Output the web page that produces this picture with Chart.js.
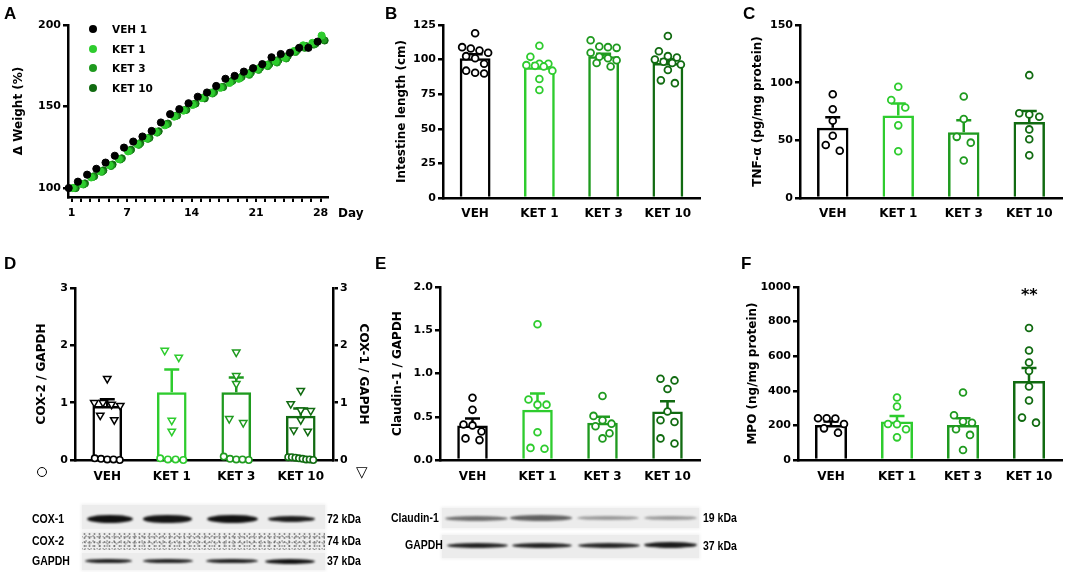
<!DOCTYPE html>
<html><head><meta charset="utf-8">
<script src="https://cdn.jsdelivr.net/npm/chart.js@4.4.1/dist/chart.umd.min.js"></script>
<style>
html,body{margin:0;padding:0;background:#fff;}
#wrap{position:relative;width:1065px;height:572px;overflow:hidden;background:#fff;}
canvas.layer{position:absolute;left:0;top:0;}
.t{position:absolute;white-space:nowrap;color:#000;}
.letter{font-family:'Liberation Sans',Arial,sans-serif;font-weight:bold;font-size:17px;line-height:17px;}
.leg{font-family:'DejaVu Sans',sans-serif;font-weight:bold;font-size:10.5px;line-height:12px;}
.dj{font-family:'DejaVu Sans',sans-serif;font-weight:bold;}
.dot{position:absolute;width:8px;height:8px;border-radius:50%;}
.blab{font-family:'Liberation Sans',Arial,sans-serif;font-weight:bold;font-size:12.5px;line-height:14px;transform:scaleX(0.84);transform-origin:0 50%;}
.strip{position:absolute;background:#ececec;box-shadow:0 0 3px 1px #f0f0f0;}
.speck{background-color:#eeeeee;
 background-image:
 radial-gradient(circle at 50% 50%, rgba(70,70,70,.9) 0, rgba(70,70,70,0) 1.4px),
 radial-gradient(circle at 30% 60%, rgba(110,110,110,.85) 0, rgba(110,110,110,0) 1.3px),
 radial-gradient(circle at 70% 30%, rgba(50,50,50,.7) 0, rgba(50,50,50,0) 1px),
 radial-gradient(circle at 40% 40%, rgba(140,140,140,.8) 0, rgba(140,140,140,0) 1.6px);
 background-size:5px 4px,7px 5px,3px 6px,9px 7px;background-position:0 0,2px 1px,1px 3px,4px 2px;}
.band{position:absolute;border-radius:50%;filter:blur(1px);}
</style></head>
<body><div id="wrap">
<canvas id="cA" class="layer" width="1065" height="572"></canvas>
<canvas id="cB" class="layer" width="1065" height="572"></canvas>
<canvas id="cC" class="layer" width="1065" height="572"></canvas>
<canvas id="cD" class="layer" width="1065" height="572"></canvas>
<canvas id="cE" class="layer" width="1065" height="572"></canvas>
<canvas id="cF" class="layer" width="1065" height="572"></canvas>

<div class="t letter" style="left:4px;top:5px">A</div>
<div class="t letter" style="left:385px;top:5px">B</div>
<div class="t letter" style="left:743px;top:5px">C</div>
<div class="t letter" style="left:4px;top:255px">D</div>
<div class="t letter" style="left:375px;top:255px">E</div>
<div class="t letter" style="left:741px;top:255px">F</div>

<div id="legA"></div>
<div class="t dj" style="left:338px;top:206px;font-size:12px;line-height:14px">Day</div>
<div class="t dj" style="left:1021px;top:286px;font-size:16px;line-height:18px">**</div>
<div class="t" style="left:37px;top:467px;width:8px;height:8px;border:1.6px solid #000;border-radius:50%"></div>
<div class="t" style="left:356px;top:463px;font-family:'DejaVu Sans',sans-serif;font-size:15px;line-height:18px">▽</div>

<div id="blots"></div>
</div>
<script>
// ---------- data ----------
const groups = ['VEH', 'KET 1', 'KET 3', 'KET 10'];
const groupColors = ['#000000', '#2ecc2e', '#1f9a1f', '#116b11'];
const legendA = ['VEH 1', 'KET 1', 'KET 3', 'KET 10'];

const weightDays = [1,2,3,4,5,6,7,8,9,10,11,12,13,14,15,16,17,18,19,20,21,22,23,24,25,26,27,28];
const weightTickLabels = [1, 7, 14, 21, 28];
const weightYTicks = [100, 150, 200];
const weightVEH   = [100,103.9,108.2,111.8,115.6,119.8,124.8,128.5,131.6,135.0,140.2,145.3,148.4,152.0,156.0,158.6,162.6,167.0,168.8,171.4,173.5,176.0,180.2,182.2,183.0,186.0,186.0,189.8];
const weightKET1  = [100,102.5,106.5,110.2,114.0,117.8,122.5,127.0,130.5,134.5,138.5,143.8,147.5,151.0,155.2,158.5,161.5,164.5,167.0,170.2,173.0,175.5,177.8,180.0,184.0,187.5,189.0,193.5];
const weightKET3  = [100,102.2,106.8,110.0,113.5,117.5,122.8,126.5,130.2,134.0,139.0,144.2,147.8,151.5,155.5,158.0,161.8,165.2,167.5,169.5,172.5,174.8,177.0,179.5,183.5,186.0,188.0,191.0];
const weightKET10 = [100,102.8,107.2,110.8,114.4,118.2,123.5,127.5,130.8,134.8,139.5,144.5,148.0,151.8,155.0,158.8,162.0,165.8,168.2,170.8,173.8,176.0,178.5,181.0,184.5,187.0,188.5,190.5];

const lengthMean = [101, 94.5, 102.5, 97.5];
const lengthSem  = [2.8, 2.8, 1.8, 2.8];
const lengthPts  = [
  [119, 108, 109, 106.5, 105, 102.5, 101, 97, 92, 90.5, 90],
  [110, 102, 97, 97, 96, 95.5, 95, 92, 86, 78],
  [114, 109.5, 109, 108.5, 105, 102, 101, 99.5, 97.5, 95],
  [117, 106, 102.5, 101.5, 100, 98.5, 97.5, 96.5, 92.5, 85, 83]
];

const tnfMean = [61, 71.5, 57, 66];
const tnfSem  = [9, 10.5, 10.5, 9.5];
const tnfPts  = [
  [90, 77, 67, 54, 46, 41],
  [96.5, 85, 78.5, 63, 40.5],
  [88, 68.5, 53, 48, 32.5],
  [106.5, 73.5, 72.5, 70.5, 59.5, 51, 37]
];

const coxMean = [0.94, 1.18, 1.18, 0.77];
const coxSem  = [0.12, 0.40, 0.26, 0.13];
const cox1Pts = [
  [1.42, 1.0, 1.0, 0.97, 0.95, 0.78, 0.70],
  [1.91, 1.79, 0.69, 0.50],
  [1.88, 1.47, 1.33, 0.72, 0.65],
  [1.21, 0.98, 0.87, 0.86, 0.70, 0.52, 0.50]
];
const cox2Pts = [
  [0.03, 0.02, 0.01, 0.01, 0],
  [0.03, 0.01, 0.01, 0],
  [0.06, 0.02, 0.01, 0.01, 0],
  [0.05, 0.05, 0.04, 0.03, 0.02, 0.01, 0.01, 0]
];

const claudinMean = [0.40, 0.58, 0.43, 0.56];
const claudinSem  = [0.08, 0.19, 0.07, 0.12];
const claudinPts  = [
  [0.72, 0.58, 0.41, 0.40, 0.33, 0.25, 0.23],
  [1.57, 0.70, 0.64, 0.64, 0.32, 0.14, 0.13],
  [0.74, 0.51, 0.46, 0.42, 0.39, 0.31, 0.25],
  [0.94, 0.92, 0.82, 0.56, 0.46, 0.44, 0.25, 0.19]
];

const mpoMean = [203, 222, 203, 457];
const mpoSem  = [19, 33, 38, 75];
const mpoPts  = [
  [241, 241, 240, 208, 183, 158],
  [361, 309, 208, 207, 178, 131],
  [390, 259, 222, 215, 178, 145, 58],
  [763, 633, 564, 515, 425, 344, 245, 216]
];

// ---------- plugins ----------
// Prism-like scatter: points whose pixel heights fall in the same row are spread sideways.
const marksPlugin = {
  id: 'marks',
  afterDatasetsUpdate(chart) {
    chart.data.datasets.forEach((ds, di) => {
      const meta = chart.getDatasetMeta(di);
      if (ds.dodge) meta.data.forEach(el => { el.x += ds.dodge; });
      if (ds.swarm) {
        const {row, sp, maxW} = ds.swarm;
        const byX = {};
        meta.data.forEach(el => { const k = Math.round(el.x); (byX[k] = byX[k] || []).push(el); });
        Object.values(byX).forEach(els => {
          const cx = els[0].x;
          const sorted = els.slice().sort((a, b) => a.y - b.y);
          const rows = [];
          sorted.forEach(el => {
            const last = rows[rows.length - 1];
            if (last && el.y - last[0].y < row) last.push(el); else rows.push([el]);
          });
          rows.forEach(r => {
            const n = r.length;
            let s = n === 2 ? Math.max(sp, 14) : sp;
            if (maxW && (n - 1) * s > maxW) s = maxW / (n - 1);
            r.forEach((el, i) => { el.x = cx + (i - (n - 1) / 2) * s; });
          });
        });
      }
    });
  },
  afterDatasetDraw(chart, args) {
    const ds = chart.data.datasets[args.index];
    if (!ds.sem) return;
    const ys = chart.scales[args.meta.yAxisID];
    const ctx = chart.ctx;
    args.meta.data.forEach((bar, i) => {
      const top = ys.getPixelForValue(ds.data[i] + ds.sem[i]);
      ctx.save();
      ctx.strokeStyle = groupColors[i];
      ctx.lineWidth = 2.5;
      ctx.beginPath();
      ctx.moveTo(bar.x, bar.y); ctx.lineTo(bar.x, top);
      ctx.moveTo(bar.x - 7.5, top); ctx.lineTo(bar.x + 7.5, top);
      ctx.stroke();
      ctx.restore();
    });
  }
};
Chart.register(marksPlugin);
Chart.defaults.font.family = "'DejaVu Sans', sans-serif";
Chart.defaults.font.weight = 'bold';
Chart.defaults.color = '#000';
Chart.defaults.animation = false;

function yAxis(o) {
  return {
    type: 'linear', position: o.position || 'left', min: o.min, max: o.max,
    border: {display: true, color: '#000', width: 2.5},
    grid: {drawOnChartArea: false, drawTicks: true, tickLength: 5, color: '#000', lineWidth: 2.5},
    ticks: {color: '#000', font: {size: 11, weight: 'bold'}, padding: 2, stepSize: o.step,
            callback: o.fmt || (v => String(v))},
    title: {display: true, text: o.title, color: '#000', font: {size: 12, weight: 'bold'},
            padding: {top: o.pt, bottom: 0}},
    afterBuildTicks: o.ticks ? (s => { s.ticks = o.ticks.map(v => ({value: v})); }) : undefined,
    afterFit: s => { s.width = o.w; }
  };
}
function xCat(pad) {
  return {
    type: 'category', offset: true,
    border: {display: true, color: '#000', width: 2.5},
    grid: {display: false, drawTicks: false},
    ticks: {color: '#000', font: {size: 12, weight: 'bold'}, padding: pad},
    afterFit: s => { s.height = 30; }
  };
}

function barPanel(id, p) {
  const datasets = [{
    type: 'bar', data: p.mean, sem: p.sem, yAxisID: p.barAxis || 'y',
    backgroundColor: 'rgba(255,255,255,0)', borderColor: groupColors, borderWidth: 2.5,
    borderSkipped: 'start', barPercentage: p.barPct, categoryPercentage: 1, order: 3
  }];
  p.sets.forEach(set => {
    set.values.forEach((vals, g) => {
      datasets.push({
        type: 'scatter', yAxisID: set.axis || 'y', order: 1, clip: false,
        data: vals.map(v => ({x: groups[g], y: v})),
        pointStyle: set.style || 'circle', pointRotation: set.rot || 0,
        pointRadius: set.r || 3.4, pointBorderWidth: set.bw || 1.8,
        pointBorderColor: groupColors[g], pointBackgroundColor: '#fff',
        swarm: set.swarm || {row: 8, sp: 9, maxW: 26}
      });
    });
  });
  const scales = {x: xCat(p.xpad), y: yAxis(p.y)};
  if (p.y2) scales.y2 = yAxis(p.y2);
  new Chart(document.getElementById(id), {
    type: 'bar',
    data: {labels: groups, datasets},
    options: {
      responsive: false, animation: false,
      layout: {autoPadding: false, padding: p.pad},
      plugins: {legend: {display: false}, tooltip: {enabled: false}},
      scales
    }
  });
}

// ---------- panel A ----------
function weightSet(vals, color, dodge) {
  return {
    data: weightDays.map((d, i) => ({x: d, y: vals[i]})),
    pointRadius: 3.6, pointBorderWidth: 1, pointBackgroundColor: color, pointBorderColor: color,
    dodge, clip: false
  };
}
new Chart(document.getElementById('cA'), {
  type: 'scatter',
  data: {datasets: [
    weightSet(weightVEH, groupColors[0], -3),
    weightSet(weightKET1, groupColors[1], 1),
    weightSet(weightKET3, groupColors[2], 2.5),
    weightSet(weightKET10, groupColors[3], 4)
  ]},
  options: {
    responsive: false, animation: false,
    layout: {autoPadding: false, padding: {left: 4, top: 25, right: 737, bottom: 345}},
    plugins: {legend: {display: false}, tooltip: {enabled: false}},
    scales: {
      x: {
        type: 'linear', min: 0.6, max: 28.8,
        afterBuildTicks: s => { s.ticks = weightDays.map(v => ({value: v})); },
        ticks: {autoSkip: false, maxRotation: 0, minRotation: 0, color: '#000',
                font: {size: 11, weight: 'bold'}, padding: 5,
                callback: v => weightTickLabels.includes(v) ? String(v) : ''},
        grid: {drawOnChartArea: false, drawTicks: true, tickLength: 5, color: '#000', lineWidth: 2},
        border: {display: true, color: '#000', width: 2.5},
        afterFit: s => { s.height = 30; }
      },
      y: yAxis({min: 94.5, max: 200, ticks: weightYTicks, title: 'Δ Weight (%)', pt: 8, w: 64})
    }
  }
});

// ---------- panels B-F ----------
barPanel('cB', {
  mean: lengthMean, sem: lengthSem, barPct: 0.48, xpad: 9,
  pad: {left: 386, top: 25, right: 365, bottom: 344},
  y: {min: 0, max: 125, step: 25, title: 'Intestine length (cm)', pt: 8.8, w: 57},
  sets: [{values: lengthPts}]
});
barPanel('cC', {
  mean: tnfMean, sem: tnfSem, barPct: 0.48, xpad: 9,
  pad: {left: 742, top: 25, right: 3, bottom: 344},
  y: {min: 0, max: 150, step: 50, title: 'TNF-α (pg/mg protein)', pt: 8.8, w: 58},
  sets: [{values: tnfPts, swarm: {row: 9, sp: 10, maxW: 26}}]
});
barPanel('cD', {
  mean: coxMean, sem: coxSem, barPct: 0.46, xpad: 10, barAxis: 'y2',
  pad: {left: 26, top: 288, right: 692, bottom: 82},
  y: {min: 0, max: 3, step: 1, title: 'COX-2 / GAPDH', pt: 8.8, w: 49},
  y2: {position: 'right', min: 0, max: 3, step: 1, title: 'COX-1 / GAPDH', pt: 2.8, w: 40},
  sets: [
    {values: cox2Pts, r: 3.2, bw: 1.6, swarm: {row: 6, sp: 7.7, maxW: 25}},
    {values: cox1Pts, axis: 'y2', style: 'triangle', rot: 180, r: 4.3, bw: 1.5, swarm: {row: 8, sp: 10, maxW: 26}}
  ]
});
barPanel('cE', {
  mean: claudinMean, sem: claudinSem, barPct: 0.47, xpad: 10,
  pad: {left: 382, top: 287, right: 365, bottom: 82},
  y: {min: 0, max: 2, step: 0.5, title: 'Claudin-1 / GAPDH', pt: 8.8, w: 58, fmt: v => v.toFixed(1)},
  sets: [{values: claudinPts}]
});
barPanel('cF', {
  mean: mpoMean, sem: mpoSem, barPct: 0.485, xpad: 10,
  pad: {left: 738, top: 287, right: 3, bottom: 82},
  y: {min: 0, max: 1000, step: 200, title: 'MPO (ng/mg protein)', pt: 7.8, w: 60},
  sets: [{values: mpoPts}]
});

// ---------- legend A ----------
(function () {
  const rowsY = [29, 49, 68, 88];
  const box = document.getElementById('legA');
  legendA.forEach((txt, i) => {
    const d = document.createElement('div');
    d.className = 'dot';
    d.style.left = (93 - 4) + 'px'; d.style.top = (rowsY[i] - 4) + 'px'; d.style.background = groupColors[i];
    box.appendChild(d);
    const t = document.createElement('div');
    t.className = 't leg';
    t.style.left = '112px'; t.style.top = (rowsY[i] - 6) + 'px';
    t.textContent = txt;
    box.appendChild(t);
  });
})();

// ---------- blots (photographic panels, drawn as decoration) ----------
(function () {
  const host = document.getElementById('blots');
  function add(cls, css, text) {
    const d = document.createElement('div');
    d.className = cls;
    Object.assign(d.style, css);
    if (text) d.textContent = text;
    host.appendChild(d);
  }
  const strips = [
    [82, 505, 243, 24, ''], [82, 532, 243, 18, 'speck'], [82, 553, 243, 17, ''],
    [442, 508, 257, 20, ''], [442, 535, 257, 23, '']
  ];
  strips.forEach(s => add('strip ' + s[4], {left: s[0] + 'px', top: s[1] + 'px', width: s[2] + 'px', height: s[3] + 'px'}));
  const bands = [
    [[87,133],[143,192],[207,258],[268,315]], 519, [8, 7.5, 8, 6], ['#111','#151515','#111','#1c1c1c'],
    [[85,132],[143,193],[206,258],[265,315]], 561, [4.5, 4.5, 4.5, 5], ['#1e1e1e','#222','#1e1e1e','#111'],
    [[445,508],[510,572],[577,639],[644,697]], 518, [5, 5.5, 4.5, 4.5], ['#6f6f6f','#606060','#9a9a9a','#9a9a9a'],
    [[447,508],[512,572],[578,640],[644,697]], 545, [5, 5, 5, 6], ['#222','#222','#262626','#1a1a1a']
  ];
  for (let k = 0; k < bands.length; k += 4) {
    const lanes = bands[k], cy = bands[k + 1], hs = bands[k + 2], cols = bands[k + 3];
    lanes.forEach((l, i) => add('band', {left: l[0] + 'px', top: (cy - hs[i] / 2) + 'px',
      width: (l[1] - l[0]) + 'px', height: hs[i] + 'px', background: cols[i]}));
  }
  const labels = [
    ['COX-1', 32, 519], ['COX-2', 32, 541], ['GAPDH', 32, 561],
    ['72 kDa', 327, 519], ['74 kDa', 327, 541], ['37 kDa', 327, 561],
    ['Claudin-1', 391, 518], ['GAPDH', 405, 545],
    ['19 kDa', 703, 518], ['37 kDa', 703, 546]
  ];
  labels.forEach(l => add('t blab', {left: l[1] + 'px', top: (l[2] - 7) + 'px'}, l[0]));
})();
</script>
</body></html>
